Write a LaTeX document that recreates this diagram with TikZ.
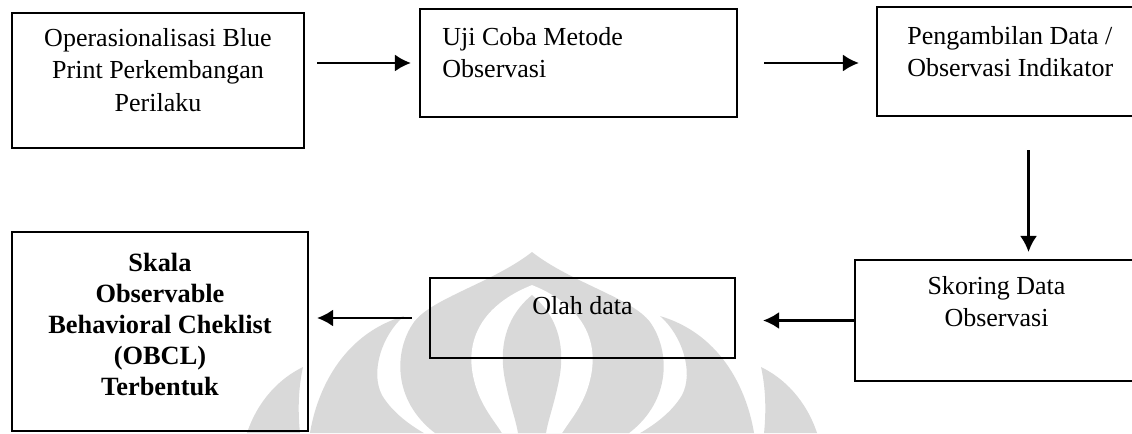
\documentclass[tikz,border=0pt]{standalone}
\usepackage{fontspec}
\setmainfont{Liberation Serif}
\usetikzlibrary{arrows.meta,positioning}

\tikzset{
  box/.style={draw, line width=1.2pt, inner sep=0pt},
  txt/.style={anchor=north, align=center, inner sep=0pt, font=\fontsize{14.8}{18.4}\selectfont},
  flow/.style={line width=1.3pt, -{Latex[length=0.32cm,width=0.34cm]}},
  logofill/.style={fill=black!15, draw=none},
}

\begin{document}
\begin{tikzpicture}
  \useasboundingbox (0,0) rectangle (22.64,8.66);
  \clip (0,0) rectangle (22.64,8.66);

  % logo di latar belakang
  \begin{scope}[x=0.02cm, y=-0.02cm, shift={(10.64cm,8.66cm)}]
    \fill[logofill] (0,252) .. controls (-40,283) and (-100,298) .. (-118,322)
      .. controls (-138,350) and (-140,400) .. (-97,433) -- (97,433)
      .. controls (140,400) and (138,350) .. (118,322)
      .. controls (100,298) and (40,283) .. (0,252) -- cycle;
    \fill[white] (0,285) .. controls (-50,305) and (-68,340) .. (-58,380)
      .. controls (-52,405) and (-38,420) .. (-30,433) -- (30,433)
      .. controls (38,420) and (52,405) .. (58,380)
      .. controls (68,340) and (50,305) .. (0,285) -- cycle;
    \fill[logofill] (0,295) .. controls (-28,318) and (-33,350) .. (-27,380)
      .. controls (-22,405) and (-16,420) .. (-14,433) -- (14,433)
      .. controls (16,420) and (22,405) .. (27,380)
      .. controls (33,350) and (28,318) .. (0,295) -- cycle;
    \foreach \s in {1,-1} {
      \begin{scope}[xscale=\s]
        \fill[logofill] (-285,433) .. controls (-274,400) and (-252,378) .. (-229,367)
          .. controls (-234,390) and (-234,412) .. (-232,433) -- cycle;
        \fill[logofill] (-222,433) .. controls (-214,385) and (-186,333) .. (-128,316)
          .. controls (-150,335) and (-162,372) .. (-150,395)
          .. controls (-140,412) and (-122,425) .. (-108,433) -- cycle;
      \end{scope}
    }
  \end{scope}

  % baris atas
  \node[box, minimum width=5.84cm, minimum height=2.7cm,
        label={[txt, yshift=-0.32cm]north:Operasionalisasi Blue\\Print Perkembangan\\Perilaku}]
        (blueprint) at (3.16,7.05) {};
  \node[box, minimum width=6.34cm, minimum height=2.16cm,
        label={[txt, align=left, anchor=north west, xshift=0.46cm, yshift=-0.38cm]north west:Uji Coba Metode\\Observasi}]
        (ujicoba) at (11.57,7.40) {};
  \node[box, minimum width=6.06cm, minimum height=2.18cm,
        label={[txt, align=left, anchor=north west, xshift=0.62cm, yshift=-0.4cm]north west:Pengambilan Data /\\Observasi Indikator}]
        (ambil) at (20.57,7.43) {};

  % baris bawah
  \node[box, minimum width=5.92cm, minimum height=3.98cm,
        label={[txt, font=\fontsize{15}{17.6}\selectfont\bfseries, yshift=-0.44cm]north:Skala\\Observable\\Behavioral Cheklist\\(OBCL)\\Terbentuk}]
        (obcl) at (3.2,2.03) {};
  \node[box, minimum width=6.1cm, minimum height=1.6cm,
        label={[txt, yshift=-0.38cm]north:Olah data}]
        (olah) at (11.65,2.30) {};
  \node[box, minimum width=6.5cm, minimum height=2.42cm,
        label={[txt, xshift=-0.42cm, yshift=-0.34cm]north:Skoring Data\\Observasi}]
        (skoring) at (20.35,2.25) {};

  % alur
  \draw[flow, shorten <=0.24cm, shorten >=0.16cm] (blueprint.east |- ujicoba.west) -- (ujicoba.west);
  \draw[flow, shorten <=0.52cm, shorten >=0.34cm] (ujicoba.east) -- (ujicoba.east -| ambil.west);
  \draw[flow, shorten <=0.66cm, shorten >=0.14cm] (ambil.south) -- (ambil.south |- skoring.north);
  \draw[flow, shorten >=0.54cm] (skoring.west) -- (skoring.west -| olah.east);
  \draw[flow, shorten <=0.34cm, shorten >=0.16cm] (olah.west) -- (olah.west -| obcl.east);
\end{tikzpicture}
\end{document}
